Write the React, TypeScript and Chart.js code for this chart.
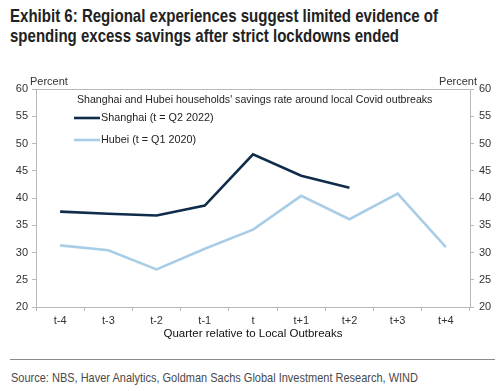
import React, { useEffect, useLayoutEffect, useRef } from "react";
import { Chart, registerables } from "chart.js";

Chart.register(...registerables);

const categories = ["t-4", "t-3", "t-2", "t-1", "t", "t+1", "t+2", "t+3", "t+4"];
const shanghai = [37.5, 37.1, 36.8, 38.6, 48.0, 44.1, 41.9, null, null];
const hubei = [31.3, 30.4, 26.9, 30.7, 34.2, 40.4, 36.1, 40.8, 31.0];
const yTicks = { min: 20, max: 60, step: 5 };
const seriesNames = ["Shanghai (t = Q2 2022)", "Hubei (t = Q1 2020)"];
const legendTitle = "Shanghai and Hubei households' savings rate around local Covid outbreaks";
const xTitle = "Quarter relative to Local Outbreaks";
const yUnit = "Percent";
const titleLines = [
  "Exhibit 6: Regional experiences suggest limited evidence of",
  "spending excess savings after strict lockdowns ended",
];
const sourceText = "Source: NBS, Haver Analytics, Goldman Sachs Global Investment Research, WIND";

const FONT = "'Liberation Sans', Arial, sans-serif";

const overlayPlugin = {
  id: "overlay",
  afterDraw(chart: any) {
    const { ctx, chartArea } = chart;
    ctx.save();
    ctx.strokeStyle = "#b8b8b8";
    ctx.lineWidth = 1;
    ctx.beginPath();
    ctx.moveTo(chartArea.left + 0.5, chartArea.top + 0.5);
    ctx.lineTo(chartArea.right - 0.5, chartArea.top + 0.5);
    ctx.stroke();
    ctx.fillStyle = "#333";
    ctx.font = `11px ${FONT}`;
    ctx.textBaseline = "middle";
    ctx.textAlign = "left";
    ctx.fillText(yUnit, 30, chartArea.top - 7);
    ctx.textAlign = "right";
    ctx.fillText(yUnit, 477, chartArea.top - 7);
    const lx = chartArea.left + 40;
    ctx.textAlign = "left";
    ctx.fillStyle = "#222";
    ctx.font = `10.6px ${FONT}`;
    ctx.fillText(legendTitle, lx + 1, chartArea.top + 11);
    const ys = [chartArea.top + 29, chartArea.top + 51];
    chart.data.datasets.forEach((ds: any, i: number) => {
      ctx.strokeStyle = ds.borderColor;
      ctx.lineWidth = ds.borderWidth;
      ctx.beginPath();
      ctx.moveTo(lx - 2, ys[i]);
      ctx.lineTo(lx + 24, ys[i]);
      ctx.stroke();
      ctx.fillStyle = "#222";
      ctx.font = `10.8px ${FONT}`;
      ctx.fillText(ds.label, lx + 25, ys[i]);
    });
    ctx.restore();
  },
};

function FitText({ text, width, style }: { text: string; width: number; style: any }) {
  const ref = useRef<HTMLSpanElement>(null);
  useLayoutEffect(() => {
    const el = ref.current;
    if (!el) return;
    el.style.transform = "none";
    const w = el.getBoundingClientRect().width;
    if (w > 0) el.style.transform = `scaleX(${width / w})`;
  }, [text, width]);
  return (
    <span ref={ref} style={{ ...style, display: "inline-block", whiteSpace: "nowrap", transformOrigin: "0 0" }}>
      {text}
    </span>
  );
}

export default function App() {
  const ref = useRef<HTMLCanvasElement>(null);
  useEffect(() => {
    if (!ref.current) return;
    const axisCommon = {
      min: yTicks.min,
      max: yTicks.max,
      ticks: { stepSize: yTicks.step, color: "#333", font: { family: FONT, size: 11 }, padding: 4 },
      grid: { drawOnChartArea: false, drawTicks: true, tickLength: 4, color: "#b8b8b8" },
      border: { color: "#b8b8b8" },
    };
    const chart = new Chart(ref.current, {
      type: "line",
      data: {
        labels: categories,
        datasets: [
          {
            label: seriesNames[0],
            data: shanghai,
            borderColor: "#0f2c4b",
            backgroundColor: "#0f2c4b",
            borderWidth: 2.6,
            pointRadius: 0,
            tension: 0,
            yAxisID: "y",
          },
          {
            label: seriesNames[1],
            data: hubei,
            borderColor: "#a9cde6",
            backgroundColor: "#a9cde6",
            borderWidth: 2.6,
            pointRadius: 0,
            tension: 0,
            yAxisID: "y",
          },
        ],
      },
      options: {
        animation: false,
        responsive: false,
        devicePixelRatio: 1,
        layout: { padding: { top: 19, left: 0, right: 0, bottom: 9 } },
        plugins: { legend: { display: false }, tooltip: { enabled: false }, title: { display: false } },
        scales: {
          x: {
            offset: true,
            grid: { offset: true, drawOnChartArea: false, drawTicks: true, tickLength: 4, color: "#b8b8b8" },
            border: { color: "#b8b8b8" },
            ticks: { color: "#333", font: { family: FONT, size: 11 }, padding: 3, maxRotation: 0 },
            title: { display: true, text: xTitle, color: "#111", font: { family: FONT, size: 11.5 }, padding: { top: 2, bottom: 0 } },
            afterFit(scale: any) {
              scale.height = 34;
            },
          },
          y: {
            ...axisCommon,
            position: "left",
            afterFit(scale: any) {
              scale.width = 36;
            },
          },
          y2: {
            ...axisCommon,
            position: "right",
            ticks: { ...axisCommon.ticks, padding: 5 },
            afterFit(scale: any) {
              scale.width = 30;
            },
          },
        },
      },
      plugins: [overlayPlugin],
    } as any);
    return () => chart.destroy();
  }, []);

  const titleStyle = {
    fontFamily: "'Liberation Sans', Arial, sans-serif",
    fontWeight: "bold",
    fontSize: 19,
    lineHeight: "20px",
    color: "#222",
  };

  return (
    <div style={{ position: "absolute", left: 0, top: 0, width: 500, height: 391, background: "#fff", overflow: "hidden" }}>
      <div style={{ position: "absolute", left: 10, top: 6 }}>
        <FitText text={titleLines[0]} width={428} style={titleStyle} />
      </div>
      <div style={{ position: "absolute", left: 10, top: 26 }}>
        <FitText text={titleLines[1]} width={389} style={titleStyle} />
      </div>
      <canvas ref={ref} width={500} height={280} style={{ position: "absolute", left: 0, top: 70, width: 500, height: 280 }} />
      <div style={{ position: "absolute", left: 10, top: 359, width: 485, height: 1, background: "#8a8a8a" }} />
      <div style={{ position: "absolute", left: 11, top: 368 }}>
        <FitText
          text={sourceText}
          width={407}
          style={{ fontFamily: "'Liberation Sans', Arial, sans-serif", fontSize: 13, lineHeight: "16px", color: "#4a4a4a" }}
        />
      </div>
    </div>
  );
}
